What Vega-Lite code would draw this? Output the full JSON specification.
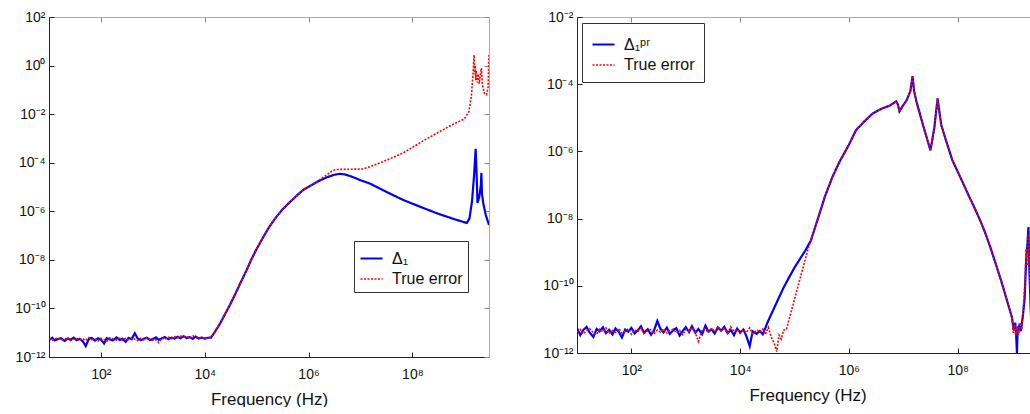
{
  "$schema": "https://vega.github.io/schema/vega-lite/v6.json",
  "padding": {"left": 14, "top": 10, "right": 0, "bottom": 0},
  "config": {
    "font": "Liberation Sans",
    "view": {"stroke": null},
    "axis": {"grid": false, "labelFontSize": 14, "labelColor": "#111", "titleColor": "#111", "titleFontWeight": "normal", "titleFontSize": 17, "tickSize": -5, "labelFlush": false},
    "legend": {"labelFontSize": 16, "labelColor": "#111", "symbolType": "stroke", "symbolSize": 484, "symbolStrokeWidth": 2, "rowPadding": 0, "labelOffset": 8, "strokeColor": "#333", "fillColor": "white"}
  },
  "datasets": {
    "L": [
      {"s":"Δ₁","f":10,"e":5.0e-12},{"s":"Δ₁","f":11.5,"e":6.2e-12},{"s":"Δ₁","f":13,"e":4.8e-12},{"s":"Δ₁","f":15,"e":5.5e-12},{"s":"Δ₁","f":17,"e":6.0e-12},{"s":"Δ₁","f":20,"e":4.6e-12},{"s":"Δ₁","f":23,"e":5.8e-12},{"s":"Δ₁","f":26,"e":5.1e-12},{"s":"Δ₁","f":30,"e":6.3e-12},{"s":"Δ₁","f":34,"e":4.9e-12},{"s":"Δ₁","f":39,"e":5.6e-12},{"s":"Δ₁","f":45,"e":4.4e-12},{"s":"Δ₁","f":51,"e":2.8e-12},{"s":"Δ₁","f":59,"e":5.7e-12},{"s":"Δ₁","f":67,"e":6.1e-12},{"s":"Δ₁","f":77,"e":4.7e-12},{"s":"Δ₁","f":88,"e":5.9e-12},{"s":"Δ₁","f":100,"e":5.2e-12},{"s":"Δ₁","f":115,"e":3.6e-12},{"s":"Δ₁","f":130,"e":6.0e-12},{"s":"Δ₁","f":150,"e":5.3e-12},{"s":"Δ₁","f":170,"e":4.8e-12},{"s":"Δ₁","f":200,"e":6.4e-12},{"s":"Δ₁","f":230,"e":5.0e-12},{"s":"Δ₁","f":260,"e":5.7e-12},{"s":"Δ₁","f":300,"e":4.2e-12},{"s":"Δ₁","f":340,"e":6.1e-12},{"s":"Δ₁","f":390,"e":5.4e-12},{"s":"Δ₁","f":450,"e":9.5e-12},{"s":"Δ₁","f":510,"e":5.8e-12},{"s":"Δ₁","f":590,"e":4.9e-12},{"s":"Δ₁","f":670,"e":5.6e-12},{"s":"Δ₁","f":770,"e":6.2e-12},{"s":"Δ₁","f":880,"e":5.0e-12},{"s":"Δ₁","f":1000,"e":5.5e-12},{"s":"Δ₁","f":1150,"e":6.4e-12},{"s":"Δ₁","f":1300,"e":5.1e-12},{"s":"Δ₁","f":1500,"e":5.9e-12},{"s":"Δ₁","f":1700,"e":6.6e-12},{"s":"Δ₁","f":2000,"e":5.4e-12},{"s":"Δ₁","f":2300,"e":6.3e-12},{"s":"Δ₁","f":2600,"e":5.7e-12},{"s":"Δ₁","f":3000,"e":6.8e-12},{"s":"Δ₁","f":3400,"e":5.9e-12},{"s":"Δ₁","f":3900,"e":7.2e-12},{"s":"Δ₁","f":4500,"e":6.0e-12},{"s":"Δ₁","f":5100,"e":6.6e-12},{"s":"Δ₁","f":5900,"e":5.6e-12},{"s":"Δ₁","f":6700,"e":6.9e-12},{"s":"Δ₁","f":7700,"e":5.8e-12},{"s":"Δ₁","f":8800,"e":6.3e-12},{"s":"Δ₁","f":10000,"e":5.7e-12},{"s":"Δ₁","f":11500,"e":6.2e-12},
      {"s":"Δ₁","f":13200,"e":6.3e-12},{"s":"Δ₁","f":15800,"e":1.1e-11},{"s":"Δ₁","f":20000,"e":2.5e-11},{"s":"Δ₁","f":25100,"e":6.3e-11},{"s":"Δ₁","f":31600,"e":1.6e-10},{"s":"Δ₁","f":39800,"e":4.4e-10},{"s":"Δ₁","f":50100,"e":1.26e-9},{"s":"Δ₁","f":63100,"e":3.5e-9},{"s":"Δ₁","f":79400,"e":1.05e-8},{"s":"Δ₁","f":100000,"e":2.8e-8},{"s":"Δ₁","f":135000,"e":8.9e-8},{"s":"Δ₁","f":178000,"e":2.4e-7},{"s":"Δ₁","f":240000,"e":5.9e-7},{"s":"Δ₁","f":316000,"e":1.2e-6},{"s":"Δ₁","f":447000,"e":2.5e-6},{"s":"Δ₁","f":631000,"e":5.0e-6},{"s":"Δ₁","f":794000,"e":7.6e-6},{"s":"Δ₁","f":1120000,"e":1.17e-5},{"s":"Δ₁","f":1585000,"e":1.78e-5},
      {"s":"Δ₁","f":2240000,"e":2.5e-5},{"s":"Δ₁","f":3160000,"e":3.2e-5},{"s":"Δ₁","f":3980000,"e":3.5e-5},{"s":"Δ₁","f":5010000,"e":3.3e-5},{"s":"Δ₁","f":7080000,"e":2.6e-5},{"s":"Δ₁","f":1e7,"e":1.9e-5},{"s":"Δ₁","f":1.51e7,"e":1.4e-5},{"s":"Δ₁","f":3.16e7,"e":6.3e-6},{"s":"Δ₁","f":6.61e7,"e":2.95e-6},{"s":"Δ₁","f":1.58e8,"e":1.4e-6},{"s":"Δ₁","f":3.16e8,"e":7.9e-7},{"s":"Δ₁","f":6.31e8,"e":4.8e-7},{"s":"Δ₁","f":1.12e9,"e":3.3e-7},{"s":"Δ₁","f":1.26e9,"e":5.0e-7},{"s":"Δ₁","f":1.41e9,"e":2.5e-6},{"s":"Δ₁","f":1.55e9,"e":3.2e-5},{"s":"Δ₁","f":1.66e9,"e":3.7e-4},{"s":"Δ₁","f":1.74e9,"e":2.5e-5},{"s":"Δ₁","f":1.8e9,"e":2.2e-6},{"s":"Δ₁","f":1.95e9,"e":4.0e-6},{"s":"Δ₁","f":2.09e9,"e":1.2e-5},{"s":"Δ₁","f":2.14e9,"e":3.8e-5},{"s":"Δ₁","f":2.2e9,"e":5.0e-6},{"s":"Δ₁","f":2.34e9,"e":2.0e-6},{"s":"Δ₁","f":2.6e9,"e":7.0e-7},{"s":"Δ₁","f":3e9,"e":2.75e-7},
      {"s":"True error","f":10,"e":5.8e-12},{"s":"True error","f":11.5,"e":4.9e-12},{"s":"True error","f":13,"e":5.6e-12},{"s":"True error","f":15,"e":6.1e-12},{"s":"True error","f":17,"e":5.0e-12},{"s":"True error","f":20,"e":5.4e-12},{"s":"True error","f":23,"e":6.2e-12},{"s":"True error","f":26,"e":4.7e-12},{"s":"True error","f":30,"e":5.3e-12},{"s":"True error","f":34,"e":6.0e-12},{"s":"True error","f":39,"e":5.1e-12},{"s":"True error","f":45,"e":5.7e-12},{"s":"True error","f":51,"e":4.8e-12},{"s":"True error","f":59,"e":6.3e-12},{"s":"True error","f":67,"e":5.2e-12},{"s":"True error","f":77,"e":5.5e-12},{"s":"True error","f":88,"e":4.6e-12},{"s":"True error","f":100,"e":5.9e-12},{"s":"True error","f":115,"e":5.3e-12},{"s":"True error","f":130,"e":4.5e-12},{"s":"True error","f":150,"e":6.2e-12},{"s":"True error","f":170,"e":5.6e-12},{"s":"True error","f":200,"e":5.0e-12},{"s":"True error","f":230,"e":6.0e-12},{"s":"True error","f":260,"e":4.9e-12},{"s":"True error","f":300,"e":5.8e-12},{"s":"True error","f":340,"e":5.2e-12},{"s":"True error","f":390,"e":6.1e-12},{"s":"True error","f":450,"e":5.4e-12},{"s":"True error","f":510,"e":4.7e-12},{"s":"True error","f":590,"e":5.9e-12},{"s":"True error","f":670,"e":5.1e-12},{"s":"True error","f":770,"e":6.3e-12},{"s":"True error","f":880,"e":5.5e-12},{"s":"True error","f":1000,"e":4.8e-12},{"s":"True error","f":1150,"e":5.2e-12},{"s":"True error","f":1300,"e":3.9e-12},{"s":"True error","f":1500,"e":6.0e-12},{"s":"True error","f":1700,"e":5.4e-12},{"s":"True error","f":2000,"e":6.5e-12},{"s":"True error","f":2300,"e":5.7e-12},{"s":"True error","f":2600,"e":6.9e-12},{"s":"True error","f":3000,"e":6.1e-12},{"s":"True error","f":3400,"e":7.3e-12},{"s":"True error","f":3900,"e":6.4e-12},{"s":"True error","f":4500,"e":7.0e-12},{"s":"True error","f":5100,"e":5.9e-12},{"s":"True error","f":5900,"e":7.4e-12},{"s":"True error","f":6700,"e":6.6e-12},{"s":"True error","f":7700,"e":5.7e-12},{"s":"True error","f":8800,"e":6.4e-12},{"s":"True error","f":10000,"e":5.9e-12},{"s":"True error","f":11500,"e":6.0e-12},
      {"s":"True error","f":13200,"e":6.3e-12},{"s":"True error","f":15800,"e":1.1e-11},{"s":"True error","f":20000,"e":2.5e-11},{"s":"True error","f":25100,"e":6.3e-11},{"s":"True error","f":31600,"e":1.6e-10},{"s":"True error","f":39800,"e":4.4e-10},{"s":"True error","f":50100,"e":1.26e-9},{"s":"True error","f":63100,"e":3.5e-9},{"s":"True error","f":79400,"e":1.05e-8},{"s":"True error","f":100000,"e":2.8e-8},{"s":"True error","f":135000,"e":8.9e-8},{"s":"True error","f":178000,"e":2.4e-7},{"s":"True error","f":240000,"e":5.9e-7},{"s":"True error","f":316000,"e":1.2e-6},{"s":"True error","f":447000,"e":2.5e-6},{"s":"True error","f":631000,"e":5.0e-6},{"s":"True error","f":794000,"e":7.6e-6},{"s":"True error","f":1120000,"e":1.17e-5},{"s":"True error","f":1585000,"e":1.9e-5},
      {"s":"True error","f":2240000,"e":3.16e-5},{"s":"True error","f":2820000,"e":4.47e-5},{"s":"True error","f":3310000,"e":5.25e-5},{"s":"True error","f":1.1e7,"e":5.5e-5},{"s":"True error","f":1.51e7,"e":6.76e-5},{"s":"True error","f":3.16e7,"e":1.26e-4},{"s":"True error","f":6.61e7,"e":2.5e-4},{"s":"True error","f":1.62e8,"e":7.9e-4},{"s":"True error","f":3.16e8,"e":1.78e-3},{"s":"True error","f":6.31e8,"e":3.98e-3},{"s":"True error","f":1e9,"e":6.3e-3},{"s":"True error","f":1.23e9,"e":1.26e-2},{"s":"True error","f":1.38e9,"e":6.3e-2},{"s":"True error","f":1.48e9,"e":0.5},{"s":"True error","f":1.55e9,"e":2.75},{"s":"True error","f":1.58e9,"e":0.5},{"s":"True error","f":1.62e9,"e":1.0},{"s":"True error","f":1.66e9,"e":0.25},{"s":"True error","f":1.7e9,"e":0.63},{"s":"True error","f":1.78e9,"e":0.2},{"s":"True error","f":1.86e9,"e":0.45},{"s":"True error","f":1.95e9,"e":0.18},{"s":"True error","f":2.04e9,"e":0.4},{"s":"True error","f":2.14e9,"e":0.79},{"s":"True error","f":2.24e9,"e":0.16},{"s":"True error","f":2.45e9,"e":0.071},{"s":"True error","f":2.69e9,"e":0.063},{"s":"True error","f":2.88e9,"e":0.126},{"s":"True error","f":2.99e9,"e":2.75}
    ],
    "R": [
      {"s":"Δ₁ᵖʳ","f":10,"e":5.5e-12},{"s":"Δ₁ᵖʳ","f":11.5,"e":3.4e-12},{"s":"Δ₁ᵖʳ","f":13,"e":4.8e-12},{"s":"Δ₁ᵖʳ","f":15,"e":6.0e-12},{"s":"Δ₁ᵖʳ","f":17,"e":4.1e-12},{"s":"Δ₁ᵖʳ","f":20,"e":3.0e-12},{"s":"Δ₁ᵖʳ","f":23,"e":5.2e-12},{"s":"Δ₁ᵖʳ","f":26,"e":4.4e-12},{"s":"Δ₁ᵖʳ","f":30,"e":5.8e-12},{"s":"Δ₁ᵖʳ","f":34,"e":3.9e-12},{"s":"Δ₁ᵖʳ","f":39,"e":4.9e-12},{"s":"Δ₁ᵖʳ","f":45,"e":3.6e-12},{"s":"Δ₁ᵖʳ","f":51,"e":5.4e-12},{"s":"Δ₁ᵖʳ","f":59,"e":4.2e-12},{"s":"Δ₁ᵖʳ","f":67,"e":2.9e-12},{"s":"Δ₁ᵖʳ","f":77,"e":5.0e-12},{"s":"Δ₁ᵖʳ","f":88,"e":4.3e-12},{"s":"Δ₁ᵖʳ","f":100,"e":5.6e-12},{"s":"Δ₁ᵖʳ","f":115,"e":3.8e-12},{"s":"Δ₁ᵖʳ","f":130,"e":4.7e-12},{"s":"Δ₁ᵖʳ","f":150,"e":6.2e-12},{"s":"Δ₁ᵖʳ","f":170,"e":4.0e-12},{"s":"Δ₁ᵖʳ","f":200,"e":5.1e-12},{"s":"Δ₁ᵖʳ","f":230,"e":3.5e-12},{"s":"Δ₁ᵖʳ","f":260,"e":4.6e-12},{"s":"Δ₁ᵖʳ","f":300,"e":9.0e-12},{"s":"Δ₁ᵖʳ","f":340,"e":5.3e-12},{"s":"Δ₁ᵖʳ","f":390,"e":4.1e-12},{"s":"Δ₁ᵖʳ","f":450,"e":5.7e-12},{"s":"Δ₁ᵖʳ","f":510,"e":3.7e-12},{"s":"Δ₁ᵖʳ","f":590,"e":4.8e-12},{"s":"Δ₁ᵖʳ","f":670,"e":5.5e-12},{"s":"Δ₁ᵖʳ","f":770,"e":3.3e-12},{"s":"Δ₁ᵖʳ","f":880,"e":4.5e-12},{"s":"Δ₁ᵖʳ","f":1000,"e":5.9e-12},{"s":"Δ₁ᵖʳ","f":1150,"e":4.2e-12},{"s":"Δ₁ᵖʳ","f":1300,"e":6.3e-12},{"s":"Δ₁ᵖʳ","f":1500,"e":4.0e-12},{"s":"Δ₁ᵖʳ","f":1700,"e":5.2e-12},{"s":"Δ₁ᵖʳ","f":2000,"e":3.6e-12},{"s":"Δ₁ᵖʳ","f":2300,"e":6.5e-12},{"s":"Δ₁ᵖʳ","f":2600,"e":4.4e-12},{"s":"Δ₁ᵖʳ","f":3000,"e":5.0e-12},{"s":"Δ₁ᵖʳ","f":3400,"e":3.8e-12},{"s":"Δ₁ᵖʳ","f":3900,"e":5.8e-12},{"s":"Δ₁ᵖʳ","f":4500,"e":4.6e-12},{"s":"Δ₁ᵖʳ","f":5100,"e":6.0e-12},{"s":"Δ₁ᵖʳ","f":5900,"e":3.9e-12},{"s":"Δ₁ᵖʳ","f":6700,"e":4.9e-12},{"s":"Δ₁ᵖʳ","f":7700,"e":3.4e-12},{"s":"Δ₁ᵖʳ","f":8800,"e":5.3e-12},{"s":"Δ₁ᵖʳ","f":10000,"e":4.1e-12},{"s":"Δ₁ᵖʳ","f":11500,"e":5.0e-12},{"s":"Δ₁ᵖʳ","f":13000,"e":3.2e-12},{"s":"Δ₁ᵖʳ","f":15000,"e":1.6e-12},{"s":"Δ₁ᵖʳ","f":17000,"e":4.4e-12},{"s":"Δ₁ᵖʳ","f":20000,"e":3.7e-12},{"s":"Δ₁ᵖʳ","f":23000,"e":4.5e-12},{"s":"Δ₁ᵖʳ","f":26000,"e":3.6e-12},{"s":"Δ₁ᵖʳ","f":29000,"e":5.5e-12},
      {"s":"Δ₁ᵖʳ","f":31600,"e":7.9e-12},{"s":"Δ₁ᵖʳ","f":39800,"e":1.78e-11},{"s":"Δ₁ᵖʳ","f":50100,"e":4.0e-11},{"s":"Δ₁ᵖʳ","f":63100,"e":8.9e-11},{"s":"Δ₁ᵖʳ","f":79400,"e":1.78e-10},{"s":"Δ₁ᵖʳ","f":100000,"e":3.5e-10},{"s":"Δ₁ᵖʳ","f":126000,"e":6.3e-10},{"s":"Δ₁ᵖʳ","f":158000,"e":1.12e-9},{"s":"Δ₁ᵖʳ","f":200000,"e":2.24e-9},
      {"s":"Δ₁ᵖʳ","f":214000,"e":3.16e-9},{"s":"Δ₁ᵖʳ","f":282000,"e":1.26e-8},{"s":"Δ₁ᵖʳ","f":363000,"e":4.6e-8},{"s":"Δ₁ᵖʳ","f":501000,"e":1.78e-7},{"s":"Δ₁ᵖʳ","f":676000,"e":5.0e-7},{"s":"Δ₁ᵖʳ","f":1000000,"e":1.58e-6},{"s":"Δ₁ᵖʳ","f":1350000,"e":4.3e-6},{"s":"Δ₁ᵖʳ","f":2000000,"e":8.3e-6},{"s":"Δ₁ᵖʳ","f":2750000,"e":1.35e-5},{"s":"Δ₁ᵖʳ","f":3980000,"e":1.86e-5},{"s":"Δ₁ᵖʳ","f":5750000,"e":2.34e-5},{"s":"Δ₁ᵖʳ","f":7410000,"e":3.1e-5},{"s":"Δ₁ᵖʳ","f":7940000,"e":2.5e-5},{"s":"Δ₁ᵖʳ","f":8510000,"e":1.55e-5},{"s":"Δ₁ᵖʳ","f":1e7,"e":2.4e-5},{"s":"Δ₁ᵖʳ","f":1.15e7,"e":3.3e-5},{"s":"Δ₁ᵖʳ","f":1.35e7,"e":6.2e-5},{"s":"Δ₁ᵖʳ","f":1.48e7,"e":1.74e-4},{"s":"Δ₁ᵖʳ","f":1.58e7,"e":6.3e-5},{"s":"Δ₁ᵖʳ","f":1.74e7,"e":3.1e-5},{"s":"Δ₁ᵖʳ","f":2.34e7,"e":5.6e-6},{"s":"Δ₁ᵖʳ","f":3.16e7,"e":1.07e-6},{"s":"Δ₁ᵖʳ","f":3.72e7,"e":5.0e-6},{"s":"Δ₁ᵖʳ","f":4.27e7,"e":3.8e-5},{"s":"Δ₁ᵖʳ","f":4.68e7,"e":1.26e-5},{"s":"Δ₁ᵖʳ","f":5.01e7,"e":6.0e-6},{"s":"Δ₁ᵖʳ","f":6.31e7,"e":1.78e-6},{"s":"Δ₁ᵖʳ","f":7.94e7,"e":5.6e-7},{"s":"Δ₁ᵖʳ","f":1e8,"e":2.5e-7},{"s":"Δ₁ᵖʳ","f":1.26e8,"e":1.12e-7},{"s":"Δ₁ᵖʳ","f":1.58e8,"e":5.0e-8},{"s":"Δ₁ᵖʳ","f":2e8,"e":2.24e-8},{"s":"Δ₁ᵖʳ","f":2.51e8,"e":1.0e-8},{"s":"Δ₁ᵖʳ","f":3.16e8,"e":4.0e-9},{"s":"Δ₁ᵖʳ","f":3.98e8,"e":1.41e-9},{"s":"Δ₁ᵖʳ","f":5.01e8,"e":4.5e-10},{"s":"Δ₁ᵖʳ","f":6.31e8,"e":1.41e-10},{"s":"Δ₁ᵖʳ","f":7.94e8,"e":4.0e-11},{"s":"Δ₁ᵖʳ","f":1e9,"e":1.12e-11},
      {"s":"Δ₁ᵖʳ","f":1.07e9,"e":5.0e-12},{"s":"Δ₁ᵖʳ","f":1.15e9,"e":7.9e-12},{"s":"Δ₁ᵖʳ","f":1.2e9,"e":2.5e-12},{"s":"Δ₁ᵖʳ","f":1.23e9,"e":1.0e-12},{"s":"Δ₁ᵖʳ","f":1.26e9,"e":4.0e-12},{"s":"Δ₁ᵖʳ","f":1.35e9,"e":6.3e-12},{"s":"Δ₁ᵖʳ","f":1.45e9,"e":4.5e-12},{"s":"Δ₁ᵖʳ","f":1.58e9,"e":1.26e-11},{"s":"Δ₁ᵖʳ","f":1.7e9,"e":4.0e-11},{"s":"Δ₁ᵖʳ","f":1.82e9,"e":6.3e-10},{"s":"Δ₁ᵖʳ","f":1.91e9,"e":1.58e-9},{"s":"Δ₁ᵖʳ","f":2.0e9,"e":5.6e-9},{"s":"Δ₁ᵖʳ","f":2.09e9,"e":2.5e-10},{"s":"Δ₁ᵖʳ","f":2.24e9,"e":1.0e-11},{"s":"Δ₁ᵖʳ","f":2.4e9,"e":6.3e-11},{"s":"Δ₁ᵖʳ","f":2.63e9,"e":2.5e-10},{"s":"Δ₁ᵖʳ","f":2.82e9,"e":5.0e-11},{"s":"Δ₁ᵖʳ","f":3e9,"e":1.58e-10},
      {"s":"True error","f":10,"e":4.2e-12},{"s":"True error","f":11.5,"e":5.0e-12},{"s":"True error","f":13,"e":3.7e-12},{"s":"True error","f":15,"e":4.6e-12},{"s":"True error","f":17,"e":5.3e-12},{"s":"True error","f":20,"e":4.0e-12},{"s":"True error","f":23,"e":3.5e-12},{"s":"True error","f":26,"e":5.1e-12},{"s":"True error","f":30,"e":4.3e-12},{"s":"True error","f":34,"e":5.6e-12},{"s":"True error","f":39,"e":3.8e-12},{"s":"True error","f":45,"e":4.7e-12},{"s":"True error","f":51,"e":4.1e-12},{"s":"True error","f":59,"e":5.4e-12},{"s":"True error","f":67,"e":3.9e-12},{"s":"True error","f":77,"e":4.5e-12},{"s":"True error","f":88,"e":5.2e-12},{"s":"True error","f":100,"e":3.6e-12},{"s":"True error","f":115,"e":4.9e-12},{"s":"True error","f":130,"e":4.3e-12},{"s":"True error","f":150,"e":5.5e-12},{"s":"True error","f":170,"e":3.8e-12},{"s":"True error","f":200,"e":4.6e-12},{"s":"True error","f":230,"e":5.0e-12},{"s":"True error","f":260,"e":3.7e-12},{"s":"True error","f":300,"e":4.8e-12},{"s":"True error","f":340,"e":4.2e-12},{"s":"True error","f":390,"e":5.3e-12},{"s":"True error","f":450,"e":3.9e-12},{"s":"True error","f":510,"e":4.6e-12},{"s":"True error","f":590,"e":5.1e-12},{"s":"True error","f":670,"e":4.0e-12},{"s":"True error","f":770,"e":4.7e-12},{"s":"True error","f":880,"e":3.5e-12},{"s":"True error","f":1000,"e":5.0e-12},{"s":"True error","f":1150,"e":4.4e-12},{"s":"True error","f":1300,"e":5.7e-12},{"s":"True error","f":1500,"e":4.1e-12},{"s":"True error","f":1700,"e":2.2e-12},{"s":"True error","f":2000,"e":4.9e-12},{"s":"True error","f":2300,"e":5.2e-12},{"s":"True error","f":2600,"e":4.0e-12},{"s":"True error","f":3000,"e":5.5e-12},{"s":"True error","f":3400,"e":4.3e-12},{"s":"True error","f":3900,"e":6.2e-12},{"s":"True error","f":4500,"e":4.5e-12},{"s":"True error","f":5100,"e":5.3e-12},{"s":"True error","f":5900,"e":3.9e-12},{"s":"True error","f":6700,"e":6.0e-12},{"s":"True error","f":7700,"e":4.4e-12},{"s":"True error","f":8800,"e":5.1e-12},{"s":"True error","f":10000,"e":3.8e-12},{"s":"True error","f":11500,"e":4.9e-12},{"s":"True error","f":13000,"e":4.1e-12},{"s":"True error","f":15000,"e":5.6e-12},{"s":"True error","f":17000,"e":3.7e-12},{"s":"True error","f":20000,"e":4.8e-12},{"s":"True error","f":23000,"e":4.2e-12},{"s":"True error","f":26000,"e":5.2e-12},{"s":"True error","f":29000,"e":3.6e-12},{"s":"True error","f":33000,"e":5.8e-12},{"s":"True error","f":37000,"e":3.1e-12},{"s":"True error","f":42000,"e":2.0e-12},{"s":"True error","f":47000,"e":1.1e-12},{"s":"True error","f":52000,"e":3.4e-12},{"s":"True error","f":57000,"e":2.6e-12},{"s":"True error","f":63000,"e":4.8e-12},
      {"s":"True error","f":70800,"e":5.0e-12},{"s":"True error","f":89100,"e":2.0e-11},{"s":"True error","f":112000,"e":7.9e-11},{"s":"True error","f":141000,"e":3.16e-10},{"s":"True error","f":178000,"e":1.26e-9},{"s":"True error","f":200000,"e":2.24e-9},
      {"s":"True error","f":214000,"e":3.16e-9},{"s":"True error","f":282000,"e":1.26e-8},{"s":"True error","f":363000,"e":4.6e-8},{"s":"True error","f":501000,"e":1.78e-7},{"s":"True error","f":676000,"e":5.0e-7},{"s":"True error","f":1000000,"e":1.58e-6},{"s":"True error","f":1350000,"e":4.3e-6},{"s":"True error","f":2000000,"e":8.3e-6},{"s":"True error","f":2750000,"e":1.35e-5},{"s":"True error","f":3980000,"e":1.86e-5},{"s":"True error","f":5750000,"e":2.34e-5},{"s":"True error","f":7410000,"e":3.1e-5},{"s":"True error","f":7940000,"e":2.5e-5},{"s":"True error","f":8510000,"e":1.55e-5},{"s":"True error","f":1e7,"e":2.4e-5},{"s":"True error","f":1.15e7,"e":3.3e-5},{"s":"True error","f":1.35e7,"e":6.2e-5},{"s":"True error","f":1.48e7,"e":1.74e-4},{"s":"True error","f":1.58e7,"e":6.3e-5},{"s":"True error","f":1.74e7,"e":3.1e-5},{"s":"True error","f":2.34e7,"e":5.6e-6},{"s":"True error","f":3.16e7,"e":1.07e-6},{"s":"True error","f":3.72e7,"e":5.0e-6},{"s":"True error","f":4.27e7,"e":3.8e-5},{"s":"True error","f":4.68e7,"e":1.26e-5},{"s":"True error","f":5.01e7,"e":6.0e-6},{"s":"True error","f":6.31e7,"e":1.78e-6},{"s":"True error","f":7.94e7,"e":5.6e-7},{"s":"True error","f":1e8,"e":2.5e-7},{"s":"True error","f":1.26e8,"e":1.12e-7},{"s":"True error","f":1.58e8,"e":5.0e-8},{"s":"True error","f":2e8,"e":2.24e-8},{"s":"True error","f":2.51e8,"e":1.0e-8},{"s":"True error","f":3.16e8,"e":4.0e-9},{"s":"True error","f":3.98e8,"e":1.41e-9},{"s":"True error","f":5.01e8,"e":4.5e-10},{"s":"True error","f":6.31e8,"e":1.41e-10},{"s":"True error","f":7.94e8,"e":4.0e-11},{"s":"True error","f":1e9,"e":1.12e-11},
      {"s":"True error","f":1.05e9,"e":4.0e-12},{"s":"True error","f":1.12e9,"e":7.0e-12},{"s":"True error","f":1.17e9,"e":3.2e-12},{"s":"True error","f":1.26e9,"e":6.3e-12},{"s":"True error","f":1.32e9,"e":3.5e-12},{"s":"True error","f":1.41e9,"e":7.9e-12},{"s":"True error","f":1.51e9,"e":5.0e-12},{"s":"True error","f":1.62e9,"e":2.5e-11},{"s":"True error","f":1.74e9,"e":1.58e-10},{"s":"True error","f":1.82e9,"e":1.26e-9},{"s":"True error","f":1.91e9,"e":4.0e-10},{"s":"True error","f":2.0e9,"e":3.5e-9},{"s":"True error","f":2.14e9,"e":1.0e-10},{"s":"True error","f":2.24e9,"e":8.9e-12},{"s":"True error","f":2.4e9,"e":5.0e-11},{"s":"True error","f":2.63e9,"e":2.0e-10},{"s":"True error","f":2.82e9,"e":4.0e-11},{"s":"True error","f":3e9,"e":1.26e-10}
    ]
  },
  "spacing": 52,
  "resolve": {
    "scale": {"color": "independent", "strokeDash": "independent", "strokeWidth": "independent"},
    "legend": {"color": "independent", "strokeDash": "independent"}
  },
  "hconcat": [
    {
      "width": 440,
      "height": 340,
      "data": {"name": "L"},
      "resolve": {"axis": {"x": "independent", "y": "independent"}},
      "layer": [
        {
          "mark": {"type": "line", "clip": true},
          "encoding": {
            "x": {"field": "f", "type": "quantitative", "scale": {"type": "log", "domain": [10, 3e9], "nice": false},
              "axis": {"orient": "bottom", "values": [100, 10000, 1000000, 100000000], "labelExpr": "'10' + (datum.value < 1 ? '⁻' : '') + (abs(round(log(datum.value)/LN10)) >= 10 ? '¹' : '') + substring('⁰¹²³⁴⁵⁶⁷⁸⁹', abs(round(log(datum.value)/LN10)) % 10, abs(round(log(datum.value)/LN10)) % 10 + 1)", "title": "Frequency (Hz)", "domainColor": "#222", "tickColor": "#222", "labelPadding": 15, "titlePadding": 10}},
            "y": {"field": "e", "type": "quantitative", "scale": {"type": "log", "domain": [1e-12, 100], "nice": false},
              "axis": {"orient": "left", "values": [1e-12, 1e-10, 1e-8, 1e-6, 1e-4, 1e-2, 1, 100], "labelExpr": "'10' + (datum.value < 1 ? '⁻' : '') + (abs(round(log(datum.value)/LN10)) >= 10 ? '¹' : '') + substring('⁰¹²³⁴⁵⁶⁷⁸⁹', abs(round(log(datum.value)/LN10)) % 10, abs(round(log(datum.value)/LN10)) % 10 + 1)", "title": null, "domainColor": "#222", "tickColor": "#222", "labelPadding": 9}},
            "color": {"field": "s", "type": "nominal", "scale": {"domain": ["Δ₁", "True error"], "range": ["#0000ff", "#ff0000"]},
              "legend": {"orient": "none", "legendX": 305, "legendY": 224, "title": null, "padding": 5}},
            "strokeDash": {"field": "s", "type": "nominal", "scale": {"domain": ["Δ₁", "True error"], "range": [[1, 0], [2, 1.5]]},
              "legend": {"orient": "none", "legendX": 305, "legendY": 224, "title": null, "padding": 5}},
            "strokeWidth": {"field": "s", "type": "nominal", "scale": {"domain": ["Δ₁", "True error"], "range": [2.2, 1.6]}, "legend": null}
          }
        },
        {
          "mark": {"type": "line", "opacity": 0},
          "encoding": {
            "x": {"field": "f", "type": "quantitative", "axis": {"orient": "top", "values": [100, 10000, 1000000, 100000000], "labels": false, "title": null, "domainColor": "#aaa", "tickColor": "#888"}},
            "y": {"field": "e", "type": "quantitative", "axis": {"orient": "right", "values": [1e-12, 1e-10, 1e-8, 1e-6, 1e-4, 1e-2, 1, 100], "labels": false, "title": null, "domainColor": "#aaa", "tickColor": "#888"}}
          }
        }
      ]
    },
    {
      "width": 461,
      "height": 336,
      "data": {"name": "R"},
      "resolve": {"axis": {"x": "independent", "y": "independent"}},
      "layer": [
        {
          "mark": {"type": "line", "clip": true},
          "encoding": {
            "x": {"field": "f", "type": "quantitative", "scale": {"type": "log", "domain": [10, 3e9], "nice": false},
              "axis": {"orient": "bottom", "values": [100, 10000, 1000000, 100000000], "labelExpr": "'10' + (datum.value < 1 ? '⁻' : '') + (abs(round(log(datum.value)/LN10)) >= 10 ? '¹' : '') + substring('⁰¹²³⁴⁵⁶⁷⁸⁹', abs(round(log(datum.value)/LN10)) % 10, abs(round(log(datum.value)/LN10)) % 10 + 1)", "title": "Frequency (Hz)", "domainColor": "#222", "tickColor": "#222", "labelPadding": 15, "titlePadding": 10}},
            "y": {"field": "e", "type": "quantitative", "scale": {"type": "log", "domain": [1e-12, 1e-2], "nice": false},
              "axis": {"orient": "left", "values": [1e-12, 1e-10, 1e-8, 1e-6, 1e-4, 1e-2], "labelExpr": "'10' + (datum.value < 1 ? '⁻' : '') + (abs(round(log(datum.value)/LN10)) >= 10 ? '¹' : '') + substring('⁰¹²³⁴⁵⁶⁷⁸⁹', abs(round(log(datum.value)/LN10)) % 10, abs(round(log(datum.value)/LN10)) % 10 + 1)", "title": null, "domainColor": "#222", "tickColor": "#222", "labelPadding": 9}},
            "color": {"field": "s", "type": "nominal", "scale": {"domain": ["Δ₁ᵖʳ", "True error"], "range": ["#0000ff", "#ff0000"]},
              "legend": {"orient": "none", "legendX": 5, "legendY": 6, "title": null, "padding": 9}},
            "strokeDash": {"field": "s", "type": "nominal", "scale": {"domain": ["Δ₁ᵖʳ", "True error"], "range": [[1, 0], [2, 1.5]]},
              "legend": {"orient": "none", "legendX": 5, "legendY": 6, "title": null, "padding": 9}},
            "strokeWidth": {"field": "s", "type": "nominal", "scale": {"domain": ["Δ₁ᵖʳ", "True error"], "range": [2.2, 1.6]}, "legend": null}
          }
        },
        {
          "mark": {"type": "line", "opacity": 0},
          "encoding": {
            "x": {"field": "f", "type": "quantitative", "axis": {"orient": "top", "values": [100, 10000, 1000000, 100000000], "labels": false, "title": null, "domainColor": "#aaa", "tickColor": "#888"}},
            "y": {"field": "e", "type": "quantitative", "axis": {"orient": "right", "values": [1e-12, 1e-10, 1e-8, 1e-6, 1e-4, 1e-2], "labels": false, "title": null, "domainColor": "#aaa", "tickColor": "#888"}}
          }
        }
      ]
    }
  ]
}
